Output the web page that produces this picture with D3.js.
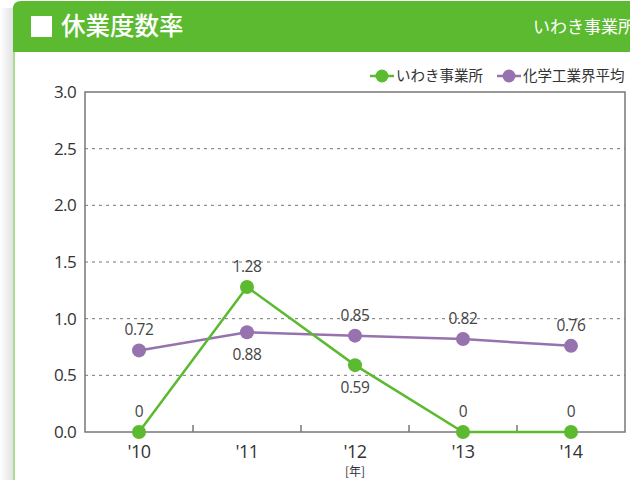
<!DOCTYPE html>
<html><head><meta charset="utf-8">
<script src="https://cdn.jsdelivr.net/npm/d3@7/dist/d3.min.js"></script>
<style>
html,body{margin:0;padding:0;background:#fff;}
svg{display:block;font-family:"Open Sans","Noto Sans CJK JP",sans-serif;}
</style></head><body>
<svg id="c" width="630" height="480"></svg>
<script>
const years = ["'10","'11","'12","'13","'14"];
const iwaki = [0, 1.28, 0.59, 0, 0];
const industry = [0.72, 0.88, 0.85, 0.82, 0.76];
const seriesNames = ["いわき事業所","化学工業界平均"];
const seriesColors = ["#5bba2f","#9673ae"];
const yTicks = [0,0.5,1.0,1.5,2.0,2.5,3.0];
// label placement: 1 = above, -1 = below
const iwakiPos = [1,1,-1,1,1];
const industryPos = [1,-1,1,1,1];

const svg = d3.select("#c");
const defs = svg.append("defs");
const g1 = defs.append("linearGradient").attr("id","sh").attr("x1","0").attr("x2","1");
g1.append("stop").attr("offset","0").attr("stop-color","#fff");
g1.append("stop").attr("offset","1").attr("stop-color","#e2e2e2");
svg.append("rect").attr("x",0).attr("y",8).attr("width",13).attr("height",472).attr("fill","url(#sh)");

// card
svg.append("path").attr("d","M13,60 L13,9 Q13,1 21,1 L640,1 L640,60 Z").attr("fill","#5bba2f");
svg.append("rect").attr("x",13).attr("y",52).attr("width",630).attr("height",440).attr("fill","#fff");
svg.append("rect").attr("x",13).attr("y",52).attr("width",2).attr("height",430).attr("fill","#a9dc90");
svg.append("rect").attr("x",31).attr("y",16).attr("width",21).attr("height",21).attr("fill","#fff");
svg.append("text").attr("x",61).attr("y",35).attr("fill","#fff")
  .attr("font-family","Noto Sans CJK JP").attr("font-weight",500).attr("font-size",24.5).text("休業度数率");
svg.append("text").attr("x",533).attr("y",33).attr("fill","#fff")
  .attr("font-family","Noto Sans CJK JP").attr("font-size",17).text("いわき事業所");

const L=85,R=625,T=92,B=432;
const x = d3.scaleBand().domain(years).range([L,R]);
const y = d3.scaleLinear().domain([0,3]).range([B,T]);
const cx = d => x(d)+x.bandwidth()/2;

// grid
svg.append("g").selectAll("line").data(yTicks.filter(v=>v>0&&v<3)).join("line")
  .attr("x1",L).attr("x2",R).attr("y1",d=>y(d)).attr("y2",d=>y(d))
  .attr("stroke","#777").attr("stroke-dasharray","3,4").attr("stroke-width",1);

// frame
svg.append("rect").attr("x",L).attr("y",T).attr("width",R-L).attr("height",B-T)
  .attr("fill","none").attr("stroke","#777").attr("stroke-width",1.5);

// y axis
const ya = svg.append("g").attr("transform",`translate(${L},0)`)
  .call(d3.axisLeft(y).tickValues(yTicks).tickFormat(d3.format(".1f")).tickSize(0).tickPadding(9));
ya.select(".domain").remove();
ya.selectAll("text").attr("font-size",17).attr("letter-spacing",-0.6).attr("fill","#333").attr("font-family","Open Sans");

// x axis
const xa = svg.append("g").attr("transform",`translate(0,${B})`)
  .call(d3.axisBottom(x).tickSize(0).tickPadding(13));
xa.select(".domain").remove();
xa.selectAll("text").attr("font-size",18).attr("letter-spacing",-0.5).attr("fill","#333").attr("font-family","Open Sans");
// band boundary ticks
svg.append("g").selectAll("line").data(years.slice(1)).join("line")
  .attr("x1",d=>x(d)).attr("x2",d=>x(d)).attr("y1",B).attr("y2",B-7)
  .attr("stroke","#777").attr("stroke-width",1.5);
svg.append("text").attr("x",cx("'12")).attr("y",476).attr("text-anchor","middle")
  .attr("font-size",12).attr("fill","#333").attr("font-family","Noto Sans CJK JP").text("[年]");

// series
const data = [[iwaki,iwakiPos],[industry,industryPos]];
const order = [1,0];
order.forEach(i=>{
  const vals = data[i][0];
  const pts = years.map((yr,j)=>[cx(yr),y(vals[j])]);
  svg.append("path").attr("d",d3.line()(pts)).attr("fill","none")
    .attr("stroke",seriesColors[i]).attr("stroke-width",2.5);
  svg.append("g").selectAll("circle").data(pts).join("circle")
    .attr("cx",d=>d[0]).attr("cy",d=>d[1]).attr("r",7).attr("fill",seriesColors[i]);
});
order.forEach(i=>{
  const vals = data[i][0], pos = data[i][1];
  svg.append("g").selectAll("text").data(years).join("text")
    .attr("x",d=>cx(d)).attr("y",(d,j)=>y(vals[j]) + (pos[j]>0 ? -15 : 28))
    .attr("text-anchor","middle").attr("font-size",15.5).attr("letter-spacing",-0.4).attr("fill","#444")
    .attr("font-family","Open Sans")
    .text((d,j)=>vals[j]===0?"0":d3.format(".2f")(vals[j]));
});

// legend
const lg = svg.append("g").attr("font-family","Noto Sans CJK JP").attr("font-size",14.5).attr("fill","#333");
const lx = [370,497];
seriesNames.forEach((n,i)=>{
  lg.append("line").attr("x1",lx[i]).attr("x2",lx[i]+24).attr("y1",76).attr("y2",76)
    .attr("stroke",seriesColors[i]).attr("stroke-width",2.5);
  lg.append("circle").attr("cx",lx[i]+12).attr("cy",76).attr("r",6.5).attr("fill",seriesColors[i]);
  lg.append("text").attr("x",lx[i]+26).attr("y",81).text(n);
});
</script></body></html>
